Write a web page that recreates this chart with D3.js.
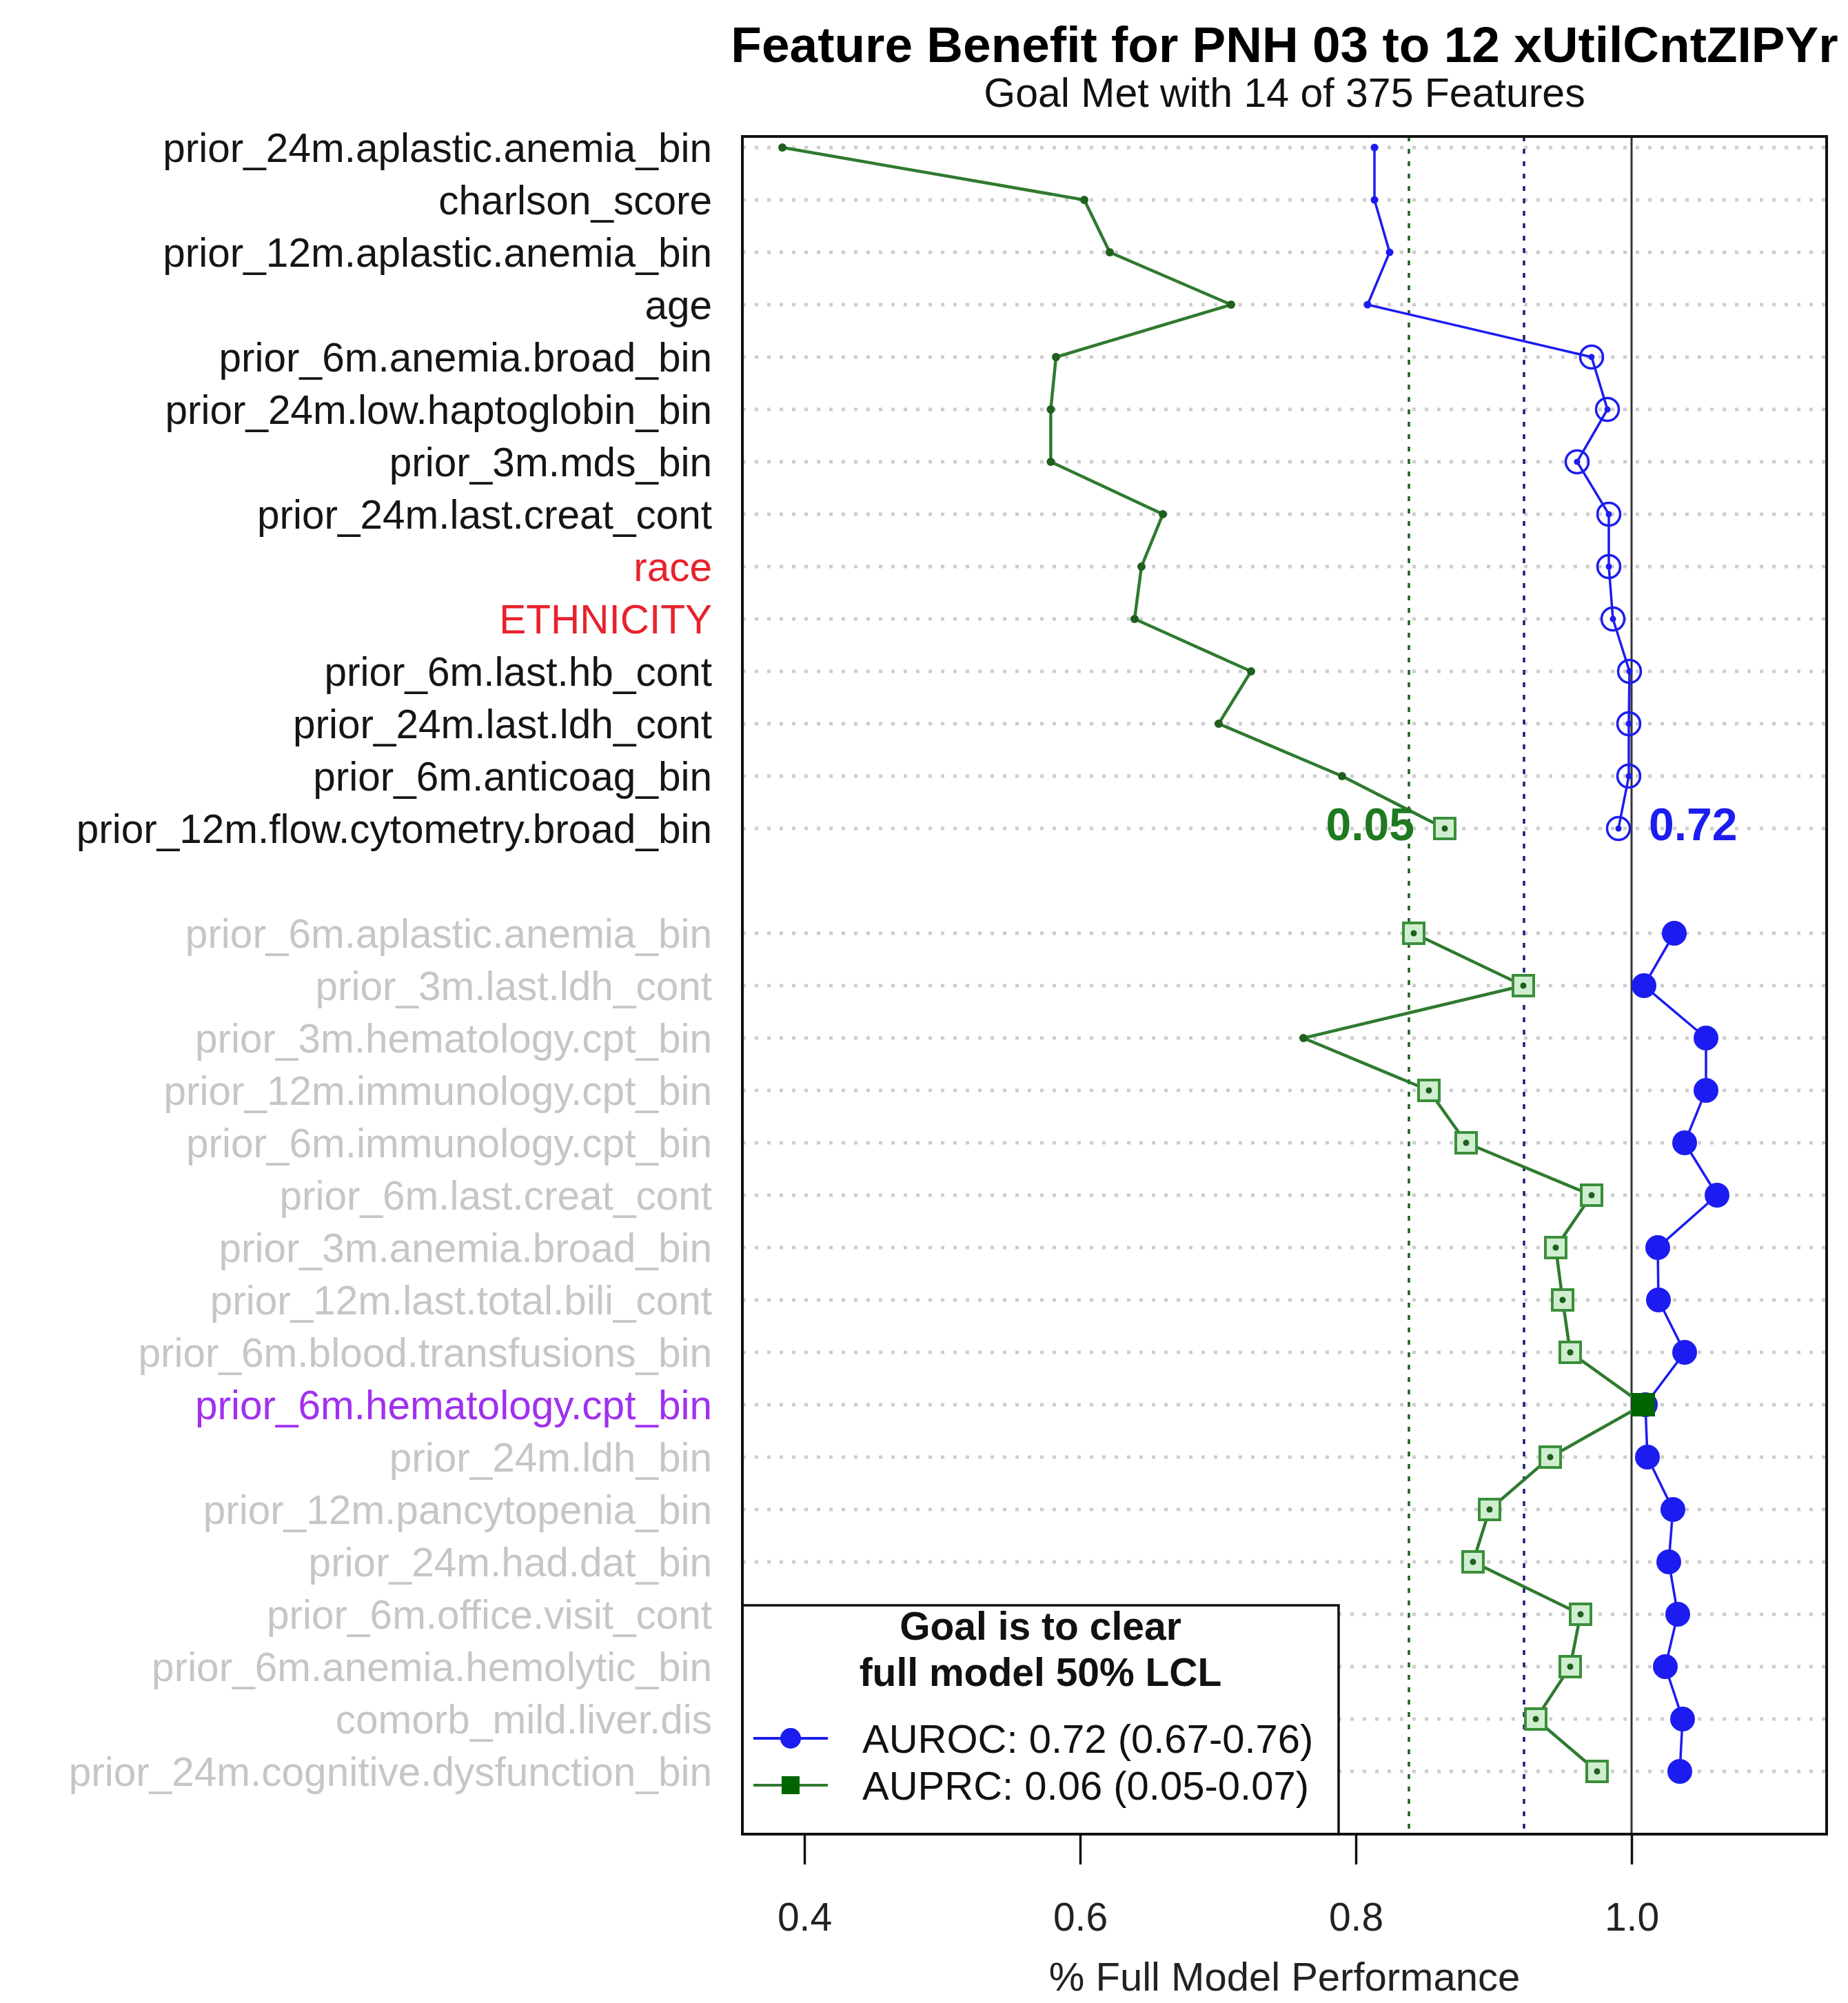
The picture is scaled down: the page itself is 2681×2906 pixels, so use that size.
<!DOCTYPE html>
<html>
<head>
<meta charset="utf-8">
<script src="https://cdn.jsdelivr.net/npm/d3@7"></script>
<style>
  body { margin: 0; background: #fff; }
  svg { display: block; font-family: "Liberation Sans", Arial, sans-serif; }
</style>
</head>
<body>
<div id="chart"></div>
<script>
// selected features (top block) and the next candidates (bottom block)
const topFeatures = [
  'prior_24m.aplastic.anemia_bin', 'charlson_score', 'prior_12m.aplastic.anemia_bin', 'age',
  'prior_6m.anemia.broad_bin', 'prior_24m.low.haptoglobin_bin', 'prior_3m.mds_bin',
  'prior_24m.last.creat_cont', 'race', 'ETHNICITY', 'prior_6m.last.hb_cont',
  'prior_24m.last.ldh_cont', 'prior_6m.anticoag_bin', 'prior_12m.flow.cytometry.broad_bin'
]
const topAuprc = [0.384, 0.603, 0.6215, 0.7095, 0.5825, 0.5787, 0.5787, 0.66, 0.6445, 0.6395, 0.724, 0.7005, 0.79, 0.8645]
const topAuroc = [0.8135, 0.8135, 0.8245, 0.8085, 0.971, 0.9825, 0.9605, 0.9835, 0.9835, 0.9865, 0.9985, 0.998, 0.998, 0.9905]

const otherFeatures = [
  'prior_6m.aplastic.anemia_bin', 'prior_3m.last.ldh_cont', 'prior_3m.hematology.cpt_bin',
  'prior_12m.immunology.cpt_bin', 'prior_6m.immunology.cpt_bin', 'prior_6m.last.creat_cont',
  'prior_3m.anemia.broad_bin', 'prior_12m.last.total.bili_cont', 'prior_6m.blood.transfusions_bin',
  'prior_6m.hematology.cpt_bin', 'prior_24m.ldh_bin', 'prior_12m.pancytopenia_bin',
  'prior_24m.had.dat_bin', 'prior_6m.office.visit_cont', 'prior_6m.anemia.hemolytic_bin',
  'comorb_mild.liver.dis', 'prior_24m.cognitive.dysfunction_bin'
]
const otherAuprc = [0.842, 0.9215, 0.762, 0.853, 0.88, 0.971, 0.945, 0.95, 0.9555, 1.0085, 0.941, 0.897, 0.885, 0.963, 0.9555, 0.9305, 0.975]
const otherAuroc = [1.031, 1.009, 1.054, 1.054, 1.0385, 1.062, 1.019, 1.0195, 1.0385, 1.01, 1.0115, 1.03, 1.027, 1.0335, 1.0245, 1.037, 1.035]

const flagged = ['race', 'ETHNICITY']
const highlight = 'prior_6m.hematology.cpt_bin'

const lclAuprc = 0.8385
const lclAuroc = 0.922
const goalAuprc = '0.05'
const goalAuroc = '0.72'
const xTicks = [0.4, 0.6, 0.8, 1.0]
const legendLabels = ['AUROC: 0.72 (0.67-0.76)', 'AUPRC: 0.06 (0.05-0.07)']

const W = 2681, H = 2906
const box = { left: 1077, right: 2650, top: 198, bottom: 2661 }
const BLUE = '#1c1cf0', GREEN = '#2f7a2f', DKGREEN = '#006400'

const svg = d3.select('#chart').append('svg').attr('width', W).attr('height', H)

const x = d3.scaleLinear().domain([0.355, 1.1415]).range([box.left, box.right])
const y = d3.scaleLinear().domain([0, 31]).range([214, 2570])

// rows: top block at 0..13, a blank slot, bottom block at 15..31
const rows = []
topFeatures.forEach((f, i) => rows.push({ name: f, pos: i, auprc: topAuprc[i], auroc: topAuroc[i], top: true }))
otherFeatures.forEach((f, i) => rows.push({ name: f, pos: 15 + i, auprc: otherAuprc[i], auroc: otherAuroc[i], top: false }))

// titles
svg.append('text').attr('x', (box.left + box.right) / 2).attr('y', 90)
  .attr('text-anchor', 'middle').attr('font-size', 73).attr('font-weight', 'bold').attr('fill', '#000')
  .text('Feature Benefit for PNH 03 to 12 xUtilCntZIPYr')
svg.append('text').attr('x', (box.left + box.right) / 2).attr('y', 155)
  .attr('text-anchor', 'middle').attr('font-size', 59).attr('fill', '#111')
  .text('Goal Met with 14 of 375 Features')

// grid
svg.append('g').selectAll('line').data(rows).join('line')
  .attr('x1', box.left).attr('x2', box.right)
  .attr('y1', (d) => y(d.pos)).attr('y2', (d) => y(d.pos))
  .attr('stroke', '#cdcdcd').attr('stroke-width', 5).attr('stroke-dasharray', '5,13')

// reference lines
const vlines = [
  { v: lclAuprc, color: '#1f5f1f', dash: '7,11' },
  { v: lclAuroc, color: '#1a1a80', dash: '7,11' },
  { v: 1.0, color: '#333', dash: null }
]
svg.append('g').selectAll('line').data(vlines).join('line')
  .attr('x1', (d) => x(d.v)).attr('x2', (d) => x(d.v))
  .attr('y1', box.top).attr('y2', box.bottom)
  .attr('stroke', (d) => d.color).attr('stroke-width', (d) => (d.dash ? 3.5 : 3))
  .attr('stroke-dasharray', (d) => d.dash)

// y labels
svg.append('g').selectAll('text').data(rows).join('text')
  .attr('x', 1033).attr('y', (d) => y(d.pos)).attr('dy', '0.36em')
  .attr('text-anchor', 'end').attr('font-size', 58.5)
  .attr('fill', (d) => {
    if (flagged.includes(d.name)) return '#e8222c'
    if (d.name === highlight) return '#a030f0'
    return d.top ? '#151515' : '#c6c6c6'
  })
  .text((d) => d.name)

// series lines
const lineFor = (key) => d3.line().x((d) => x(d[key])).y((d) => y(d.pos))
const blocks = [rows.filter((d) => d.top), rows.filter((d) => !d.top)]
blocks.forEach((b) => {
  svg.append('path').datum(b).attr('d', lineFor('auroc'))
    .attr('fill', 'none').attr('stroke', BLUE).attr('stroke-width', 3.5)
})
blocks.forEach((b) => {
  svg.append('path').datum(b).attr('d', lineFor('auprc'))
    .attr('fill', 'none').attr('stroke', GREEN).attr('stroke-width', 4.5)
})

// AUROC markers
const gB = svg.append('g')
rows.forEach((d) => {
  const cx = x(d.auroc), cy = y(d.pos)
  if (!d.top) {
    gB.append('circle').attr('cx', cx).attr('cy', cy).attr('r', 18).attr('fill', BLUE)
  } else if (d.auroc > lclAuroc) {
    gB.append('circle').attr('cx', cx).attr('cy', cy).attr('r', 16.5)
      .attr('fill', 'none').attr('stroke', BLUE).attr('stroke-width', 3.5)
    gB.append('circle').attr('cx', cx).attr('cy', cy).attr('r', 4.5).attr('fill', BLUE)
  } else {
    gB.append('circle').attr('cx', cx).attr('cy', cy).attr('r', 5.5).attr('fill', BLUE)
  }
})

// AUPRC markers
const gG = svg.append('g')
rows.forEach((d) => {
  const cx = x(d.auprc), cy = y(d.pos)
  if (d.name === highlight) {
    gG.append('rect').attr('x', cx - 17).attr('y', cy - 17).attr('width', 34).attr('height', 34).attr('fill', DKGREEN)
  } else if (d.auprc > lclAuprc) {
    gG.append('rect').attr('x', cx - 15).attr('y', cy - 15).attr('width', 30).attr('height', 30)
      .attr('fill', '#cfeecf').attr('stroke', '#3a8f3a').attr('stroke-width', 4)
    gG.append('circle').attr('cx', cx).attr('cy', cy).attr('r', 4.5).attr('fill', '#1f5f1f')
  } else {
    gG.append('circle').attr('cx', cx).attr('cy', cy).attr('r', 6).attr('fill', '#1f5f1f')
  }
})

// goal labels on the last selected feature
const last = rows[topFeatures.length - 1]
svg.append('text').attr('x', x(last.auprc) - 44).attr('y', y(last.pos) - 7).attr('dy', '0.36em')
  .attr('text-anchor', 'end').attr('font-size', 66).attr('font-weight', 'bold').attr('fill', '#1f7a1f')
  .text(goalAuprc)
svg.append('text').attr('x', x(last.auroc) + 44).attr('y', y(last.pos) - 7).attr('dy', '0.36em')
  .attr('text-anchor', 'start').attr('font-size', 66).attr('font-weight', 'bold').attr('fill', BLUE)
  .text(goalAuroc)

// legend
const lg = { left: box.left, right: 1942, top: 2329, bottom: box.bottom }
svg.append('rect').attr('x', lg.left).attr('y', lg.top)
  .attr('width', lg.right - lg.left).attr('height', lg.bottom - lg.top)
  .attr('fill', '#fff').attr('stroke', '#111').attr('stroke-width', 3.5)
const lcx = (lg.left + lg.right) / 2
;['Goal is to clear', 'full model 50% LCL'].forEach((t, i) => {
  svg.append('text').attr('x', lcx).attr('y', 2379 + i * 67)
    .attr('text-anchor', 'middle').attr('font-size', 57).attr('font-weight', 'bold').attr('fill', '#111')
    .text(t)
})
legendLabels.forEach((t, i) => {
  const ly = 2522 + i * 68
  const c = i === 0 ? BLUE : GREEN
  svg.append('line').attr('x1', 1093).attr('x2', 1201).attr('y1', ly).attr('y2', ly)
    .attr('stroke', c).attr('stroke-width', 4)
  if (i === 0) svg.append('circle').attr('cx', 1147).attr('cy', ly).attr('r', 15).attr('fill', BLUE)
  else svg.append('rect').attr('x', 1134).attr('y', ly - 13).attr('width', 26).attr('height', 26).attr('fill', DKGREEN)
  svg.append('text').attr('x', 1251).attr('y', ly).attr('dy', '0.36em')
    .attr('font-size', 58).attr('fill', '#111').text(t)
})

// frame
svg.append('rect').attr('x', box.left).attr('y', box.top)
  .attr('width', box.right - box.left).attr('height', box.bottom - box.top)
  .attr('fill', 'none').attr('stroke', '#111').attr('stroke-width', 4)

// x axis
const xAxis = d3.axisBottom(x).tickValues(xTicks).tickFormat(d3.format('.1f'))
  .tickSize(44).tickPadding(56)
const ax = svg.append('g').attr('transform', `translate(0,${box.bottom})`).call(xAxis)
ax.select('.domain').remove()
ax.selectAll('line').attr('stroke', '#111').attr('stroke-width', 3.5)
ax.selectAll('text').attr('font-size', 57).attr('fill', '#222')
  .attr('font-family', '"Liberation Sans", Arial, sans-serif')

svg.append('text').attr('x', (box.left + box.right) / 2).attr('y', 2888)
  .attr('text-anchor', 'middle').attr('font-size', 58).attr('fill', '#222')
  .text('% Full Model Performance')
</script>
</body>
</html>
